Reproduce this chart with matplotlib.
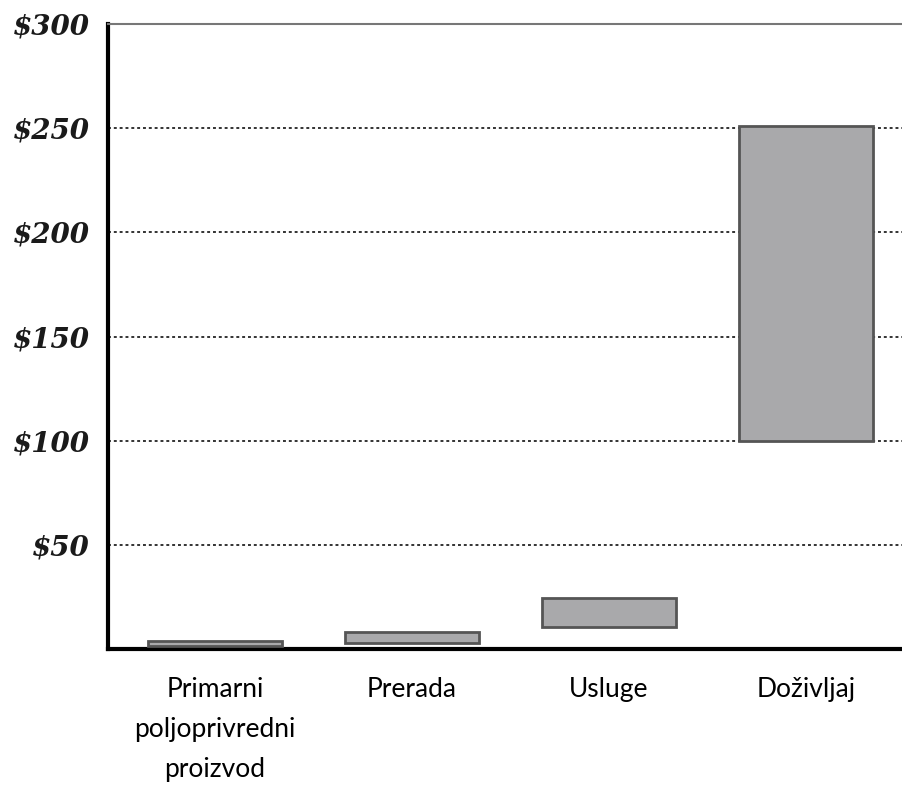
import matplotlib

matplotlib.use("Agg")
import matplotlib.pyplot as plt

# Floating bars: each stage spans a low..high value range (USD)
categories = ["Primarni\npoljoprivredni\nproizvod", "Prerada", "Usluge", "Doživljaj"]
low_values = [1.5, 3, 10.5, 100]
high_values = [4, 8, 24.5, 251]
y_ticks = [50, 100, 150, 200, 250, 300]
y_tick_labels = ["$50", "$100", "$150", "$200", "$250", "$300"]

fig = plt.figure(figsize=(9.02, 7.93), dpi=100)
ax = fig.add_axes([0.1197, 0.1816, 0.8803, 0.7881])

x = list(range(len(categories)))
heights = [h - l for l, h in zip(low_values, high_values)]
ax.bar(x, heights, bottom=low_values, width=0.68, color="#a9a9ab",
       edgecolor="#555555", linewidth=2, zorder=3)

ax.set_xlim(-0.543, 3.487)
ax.set_ylim(0, 300)

# dotted grid lines (not at the top)
for v in y_ticks[:-1]:
    ax.axhline(v, color="#333333", linestyle=(0, (1.5, 1.5)), linewidth=1.4, zorder=1)

ax.set_yticks(y_ticks)
ax.set_yticklabels(y_tick_labels, family="DejaVu Serif", fontweight="bold",
                   fontstyle="italic", fontsize=20, color="#1a1a1a")
ax.set_xticks(x)
ax.set_xticklabels(categories, family="Lato", fontsize=19, linespacing=1.75)
ax.tick_params(axis="y", length=0, pad=13)
ax.tick_params(axis="x", length=0, pad=20)

ax.spines["right"].set_visible(False)
ax.spines["top"].set_color("#777777")
ax.spines["top"].set_linewidth(1.5)
ax.spines["left"].set_linewidth(3)
ax.spines["bottom"].set_linewidth(3)

fig.savefig("out.png", dpi=100)
plt.close(fig)
